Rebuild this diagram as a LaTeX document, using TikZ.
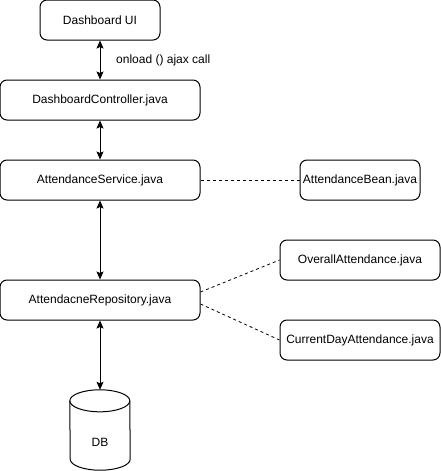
\documentclass[tikz,border=0pt]{standalone}
\usepackage{fontspec}
\setmainfont{Liberation Sans}
\usetikzlibrary{arrows.meta,calc}
\begin{document}
\begin{tikzpicture}[x=1pt,y=-1pt,
  box/.style={draw, line width=1pt, rounded corners=7pt, inner sep=0pt, align=center,
    font=\fontsize{12}{14}\selectfont},
  biarrow/.style={line width=1pt, {Stealth[length=8pt,width=7pt,inset=1.5pt]}-{Stealth[length=8pt,width=7pt,inset=1.5pt]}},
  dashline/.style={line width=0.8pt, dash pattern=on 3pt off 3pt},
  lbl/.style={font=\fontsize{12}{14}\selectfont, inner sep=0pt}]
\useasboundingbox (0,0) rectangle (441,471);
\node[box, minimum width=120pt, minimum height=40pt] (ui) at (100,20) {Dashboard UI};
\node[box, minimum width=200pt, minimum height=40pt] (ctrl) at (100,100) {DashboardController.java};
\node[box, minimum width=200pt, minimum height=40pt] (svc) at (100,180) {AttendanceService.java};
\node[box, minimum width=120pt, minimum height=40pt] (bean) at (360,180) {AttendanceBean.java};
\node[box, minimum width=200pt, minimum height=40pt] (repo) at (100,300) {AttendacneRepository.java};
\node[box, minimum width=160pt, minimum height=40pt] (overall) at (360,260) {OverallAttendance.java};
\node[box, minimum width=160pt, minimum height=40pt] (curday) at (360,340) {CurrentDayAttendance.java};
% DB cylinder
\node[minimum width=60pt, minimum height=80pt, inner sep=0pt] (db) at (100,430) {};
\draw[line width=1pt] (db.north west) ++(0,11) arc[start angle=180, end angle=0, x radius=30pt, y radius=11pt]
  -- ($(db.south east)+(0,-11)$) arc[start angle=0, end angle=-180, x radius=30pt, y radius=11pt] -- cycle;
\draw[line width=1pt] ($(db.north west)+(0,11)$) arc[start angle=180, end angle=360, x radius=30pt, y radius=11pt];
\node[lbl] (dbtxt) at ($(db.center)+(0,12)$) {DB};
% connectors
\draw[biarrow] (ui.south) -- (ctrl.north);
\node[lbl, anchor=west] (ajax) at (116,60) {onload () ajax call};
\draw[biarrow] (ctrl.south) -- (svc.north);
\draw[biarrow] (svc.south) -- (repo.north);
\draw[biarrow] (repo.south) -- (db.north);
\draw[dashline] (svc.east) -- (bean.west);
\draw[dashline] ($(repo.east)+(0,-8)$) -- (overall.west);
\draw[dashline] ($(repo.east)+(0,4)$) -- (curday.west);
\end{tikzpicture}
\end{document}
